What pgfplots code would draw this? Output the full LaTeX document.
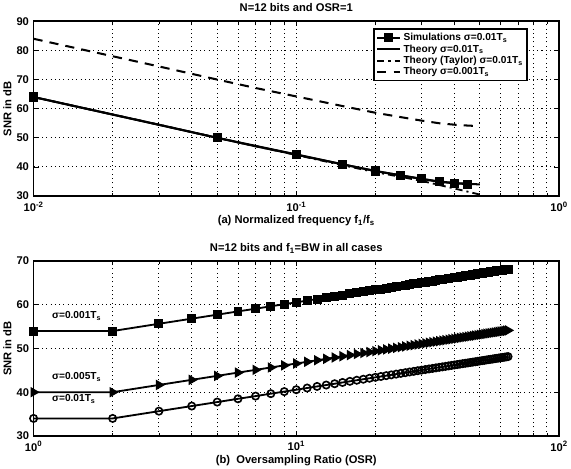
\documentclass[border=0pt]{standalone}
\usepackage{fontspec}
\setmainfont{Liberation Sans}
\usepackage{pgfplots}
\pgfplotsset{compat=1.18}
\usepackage{pgfplotstable}

\pgfplotstableread{
osr a b c
1 54.00 40.00 34.00
2 54.00 40.00 34.00
3 55.66 41.66 35.66
4 56.83 42.83 36.83
5 57.74 43.74 37.74
6 58.49 44.49 38.49
7 59.11 45.11 39.11
8 59.66 45.66 39.66
9 60.14 46.14 40.14
10 60.57 46.57 40.57
11 60.96 46.96 40.96
12 61.32 47.32 41.32
13 61.64 47.64 41.64
14 61.94 47.94 41.94
15 62.23 48.23 42.23
16 62.49 48.49 42.49
17 62.74 48.74 42.74
18 62.97 48.97 42.97
19 63.19 49.19 43.19
20 63.40 49.40 43.40
21 63.60 49.60 43.60
22 63.79 49.79 43.79
23 63.97 49.97 43.97
24 64.14 50.14 44.14
25 64.31 50.31 44.31
26 64.47 50.47 44.47
27 64.63 50.63 44.63
28 64.77 50.77 44.77
29 64.92 50.92 44.92
30 65.06 51.06 45.06
31 65.19 51.19 45.19
32 65.32 51.32 45.32
33 65.44 51.44 45.44
34 65.57 51.57 45.57
35 65.69 51.69 45.69
36 65.80 51.80 45.80
37 65.91 51.91 45.91
38 66.02 52.02 46.02
39 66.13 52.13 46.13
40 66.23 52.23 46.23
41 66.33 52.33 46.33
42 66.43 52.43 46.43
43 66.53 52.53 46.53
44 66.62 52.62 46.62
45 66.71 52.71 46.71
46 66.80 52.80 46.80
47 66.89 52.89 46.89
48 66.97 52.97 46.97
49 67.06 53.06 47.06
50 67.14 53.14 47.14
51 67.22 53.22 47.22
52 67.30 53.30 47.30
53 67.38 53.38 47.38
54 67.46 53.46 47.46
55 67.53 53.53 47.53
56 67.60 53.60 47.60
57 67.68 53.68 47.68
58 67.75 53.75 47.75
59 67.82 53.82 47.82
60 67.89 53.89 47.89
61 67.95 53.95 47.95
62 68.02 54.02 48.02
63 68.08 54.08 48.08
64 68.15 54.15 48.15
}\osrdata

\pgfplotsset{
  myaxis/.style={
    scale only axis, width=517pt, height=172pt,
    font=\fontsize{11}{13}\selectfont\bfseries,
    /pgf/number format/assume math mode=true,
    axis line style={line width=1.6pt},
    tick style={black, line width=0.8pt},
    tick align=inside,
    major tick length=5pt, minor tick length=3pt,
    xtick pos=both, ytick pos=both,
    xticklabel style={yshift=-2pt},
    yticklabel style={xshift=-1pt},
    grid style={black, line width=0.9pt, dash pattern=on 1pt off 3.2pt},
    xmajorgrids, xminorgrids, ymajorgrids,
    clip marker paths=false,
  }
}

\begin{document}
\begin{tikzpicture}
\begin{semilogxaxis}[myaxis,
  at={(0,0)}, anchor=north west,
  xmin=0.01, xmax=1, ymin=30, ymax=90,
  ytick={30,40,50,60,70,80,90},
  xtick={0.01,0.1,1},
  xticklabels={10\textsuperscript{-2},10\textsuperscript{-1},10\textsuperscript{0}},
  title={N=12 bits and OSR=1},
  xlabel={(a) Normalized frequency f\textsubscript{1}/f\textsubscript{s}},
  xlabel style={yshift=3pt},
  ylabel={SNR in dB},
  ylabel style={yshift=-2pt},
  legend style={at={(0.9406,0.959)}, anchor=north east, draw=black, line width=1.6pt,
    fill=white, font=\fontsize{10}{12}\selectfont\bfseries, inner sep=2pt, row sep=-1.5pt},
  legend cell align=left,
  legend image code/.code={\draw[mark repeat=2,mark phase=2] plot coordinates {(0cm,0cm) (0.4cm,0cm) (0.8cm,0cm)};},
]
\addplot[black, line width=2pt, mark=square*, mark size=3.5pt] coordinates {
(0.01,64.0) (0.05,50.0) (0.1,44.3) (0.15,40.9) (0.2,38.6) (0.25,37.1) (0.3,35.9) (0.35,34.9) (0.4,34.4) (0.45,34.1)};
\addlegendentry{Simulations σ=0.01T\textsubscript{s}}
\addplot[black, line width=2pt] coordinates {
(0.01,64.0) (0.02,58.0) (0.03,54.5) (0.05,50.0) (0.07,47.1) (0.1,44.2) (0.15,40.9) (0.2,38.6) (0.25,37.1) (0.3,35.9) (0.35,35.0) (0.4,34.5) (0.45,34.2) (0.5,34.0)};
\addlegendentry{Theory σ=0.01T\textsubscript{s}}
\addplot[black, line width=1.8pt, dash pattern=on 7pt off 4pt on 2pt off 4pt] coordinates {
(0.01,64.0) (0.02,58.0) (0.03,54.5) (0.05,50.0) (0.07,47.1) (0.1,44.1) (0.15,40.6) (0.2,38.2) (0.25,36.6) (0.3,35.2) (0.35,33.8) (0.4,32.6) (0.45,31.5) (0.5,30.5)};
\addlegendentry{Theory (Taylor) σ=0.01T\textsubscript{s}}
\addplot[black, line width=2pt, dash pattern=on 9pt off 7pt] coordinates {
(0.01,84.0) (0.02,78.0) (0.03,74.5) (0.05,70.0) (0.07,67.1) (0.1,64.2) (0.15,60.9) (0.2,58.6) (0.25,57.1) (0.3,55.9) (0.35,55.0) (0.4,54.5) (0.45,54.2) (0.5,54.0)};
\addlegendentry{Theory σ=0.001T\textsubscript{s}}
\end{semilogxaxis}

\begin{semilogxaxis}[myaxis,
  at={(0,-236pt)}, anchor=north west,
  xmin=1, xmax=100, ymin=30, ymax=70,
  ytick={30,40,50,60,70},
  xtick={1,10,100},
  xticklabels={10\textsuperscript{0},10\textsuperscript{1},10\textsuperscript{2}},
  title={N=12 bits and f\textsubscript{1}=BW in all cases},
  title style={yshift=-2pt},
  xlabel={(b)\ \ Oversampling Ratio (OSR)},
  xlabel style={yshift=3pt},
  ylabel={SNR in dB},
  ylabel style={yshift=-2pt},
]
\addplot[black, line width=1.8pt, mark=square*, mark size=3.5pt] table[x=osr,y=a]{\osrdata};
\addplot[black, line width=1.8pt, mark=triangle*, mark size=4.2pt, mark options={rotate=-90}] table[x=osr,y=b]{\osrdata};
\addplot[black, line width=1.8pt, mark=o, mark size=3.6pt, mark options={line width=1.6pt}] table[x=osr,y=c]{\osrdata};
\node[anchor=west, font=\fontsize{10}{12}\selectfont\bfseries] at (axis cs:1.14,57.4) {σ=0.001T\textsubscript{s}};
\node[anchor=west, font=\fontsize{10}{12}\selectfont\bfseries] at (axis cs:1.14,43.5) {σ=0.005T\textsubscript{s}};
\node[anchor=west, font=\fontsize{10}{12}\selectfont\bfseries] at (axis cs:1.14,38.4) {σ=0.01T\textsubscript{s}};
\end{semilogxaxis}
\end{tikzpicture}
\end{document}
